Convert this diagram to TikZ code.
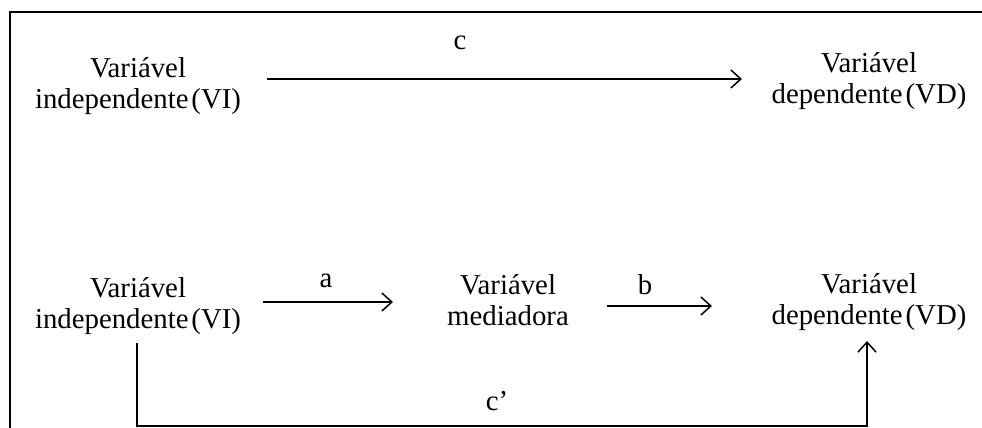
\documentclass[tikz,border=0pt]{standalone}
\usepackage{fontspec}
\setmainfont{Liberation Serif}
\usetikzlibrary{arrows.meta}
\newcommand{\tsp}{\hspace{0.1em}}
\begin{document}
\begin{tikzpicture}[x=0.5pt,y=-0.5pt,
  lbl/.style={align=center,font=\fontsize{14.4}{15.5}\selectfont,inner sep=0pt},
  small/.style={font=\fontsize{14.4}{15.5}\selectfont,inner sep=0pt},
  conn/.style={line width=0.75pt,-{Straight Barb[length=5pt,width=9pt,line width=0.75pt]}},
  frame/.style={line width=1pt}]
\useasboundingbox (0,0) rectangle (982,428);
\draw[frame] (10,428) -- (10,12) -- (982,12);
% top row
\node[lbl] (vi1) at (138,86) {Variável\\independente\tsp(VI)};
\node[lbl] (vd1) at (869,81) {Variável\\dependente\tsp(VD)};
\coordinate (c1s) at (267,79);
\coordinate (c1e) at (742,79);
\draw[conn] (c1s) -- (c1e);
\node[small] (lc) at (460,43) {c};
% bottom row
\node[lbl] (vi2) at (138,306) {Variável\\independente\tsp(VI)};
\node[lbl] (med) at (508,300) {Variável\\mediadora};
\node[lbl] (vd2) at (869,302) {Variável\\dependente\tsp(VD)};
\coordinate (as) at (263,302);
\coordinate (ae) at (393,302);
\draw[conn] (as) -- (ae);
\node[small] (la) at (326,281) {a};
\coordinate (bs) at (607,306);
\coordinate (be) at (712,306);
\draw[conn] (bs) -- (be);
\node[small] (lb) at (645,285) {b};
% c'
\coordinate (cps) at (137,343);
\coordinate (cpe) at (867,341);
\draw[conn] (cps) -- (137,426) -- (867,426) -- (cpe);
\node[small] (lcp) at (497,401) {c’};
\end{tikzpicture}
\end{document}
